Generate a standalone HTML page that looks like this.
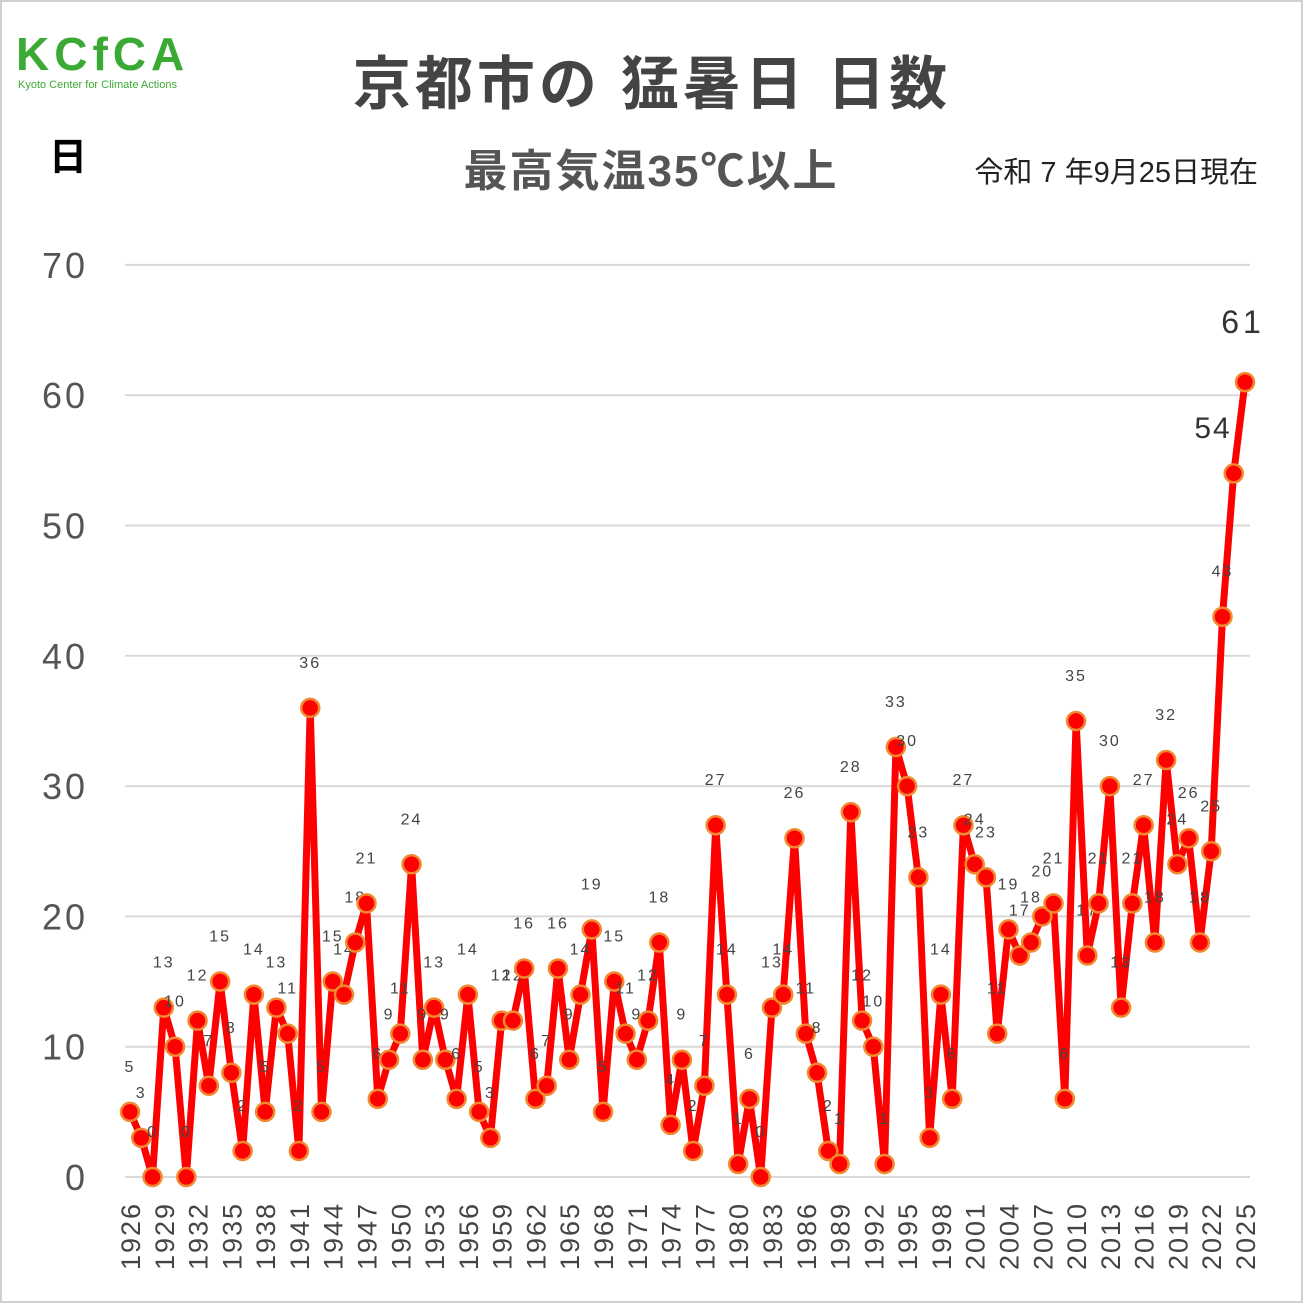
<!DOCTYPE html>
<html><head><meta charset="utf-8"><style>
html,body{margin:0;padding:0;background:#fff}
svg{display:block}
text{font-family:"Liberation Sans","Noto Sans CJK JP",sans-serif}
</style></head><body>
<svg id="s" width="1303" height="1303" xmlns="http://www.w3.org/2000/svg">
<rect x="1" y="1" width="1301" height="1301" fill="#fff" stroke="#d0d0d0" stroke-width="2"/>
<text x="16" y="70" font-size="46" font-weight="bold" fill="#3aaa35" letter-spacing="5">KCfCA</text>
<text x="18" y="88" font-size="11" fill="#3aaa35">Kyoto Center for Climate Actions</text>
<text x="652" y="104" font-size="58" font-weight="bold" fill="#444" text-anchor="middle" letter-spacing="4">京都市の 猛暑日 日数</text>
<text x="651" y="186" font-size="44" font-weight="bold" fill="#555" text-anchor="middle" letter-spacing="2">最高気温35℃以上</text>
<text x="1258" y="182" font-size="29" fill="#222" text-anchor="end">令和 7 年9月25日現在</text>
<text x="68" y="170" font-size="38" font-weight="bold" fill="#000" text-anchor="middle">日</text>
<g id="g"></g>
</svg>
<script>
var d=[5,3,0,13,10,0,12,7,15,8,2,14,5,13,11,2,36,5,15,14,18,21,6,9,11,24,9,13,9,6,14,5,3,12,12,16,6,7,16,9,14,19,5,15,11,9,12,18,4,9,2,7,27,14,1,6,0,13,14,26,11,8,2,1,28,12,10,1,33,30,23,3,14,6,27,24,23,11,19,17,18,20,21,6,35,17,21,30,13,21,27,18,32,24,26,18,25,43,54,61];
var g=document.getElementById('g'),h='';
function X(i){return 130+i*(1245-130)/99}
function Y(v){return 1177-v*13.03}
for(var v=0;v<=70;v+=10){var y=Y(v);
 h+='<line x1="125" x2="1250" y1="'+y+'" y2="'+y+'" stroke="#d9d9d9" stroke-width="2"/>';
 h+='<text x="88" y="'+(y+13)+'" font-size="36" fill="#555" text-anchor="end" letter-spacing="3">'+v+'</text>';}
var p='';for(var i=0;i<100;i++)p+=(i?'L':'M')+X(i).toFixed(1)+','+Y(d[i]).toFixed(1);
h+='<path d="'+p+'" fill="none" stroke="#ff0000" stroke-width="7" stroke-linejoin="round"/>';
for(var i=0;i<100;i++){h+='<circle cx="'+X(i)+'" cy="'+Y(d[i])+'" r="9" fill="#ff0000" stroke="#f08a30" stroke-width="2.5"/>';
 if(i<98)h+='<text x="'+X(i)+'" y="'+(Y(d[i])-40)+'" font-size="16" fill="#444" text-anchor="middle" letter-spacing="2">'+d[i]+'</text>';}
h+='<text x="1213" y="438" font-size="30" fill="#333" text-anchor="middle" letter-spacing="2">54</text>';
h+='<text x="1243" y="333" font-size="32" fill="#333" text-anchor="middle" letter-spacing="4">61</text>';
for(var i=0;i<100;i+=3){var x=X(i)+10;h+='<text transform="translate('+x+',1270) rotate(-90)" font-size="27" fill="#444" letter-spacing="2">'+(1926+i)+'</text>';}
g.innerHTML=h;
</script>
</body></html>
